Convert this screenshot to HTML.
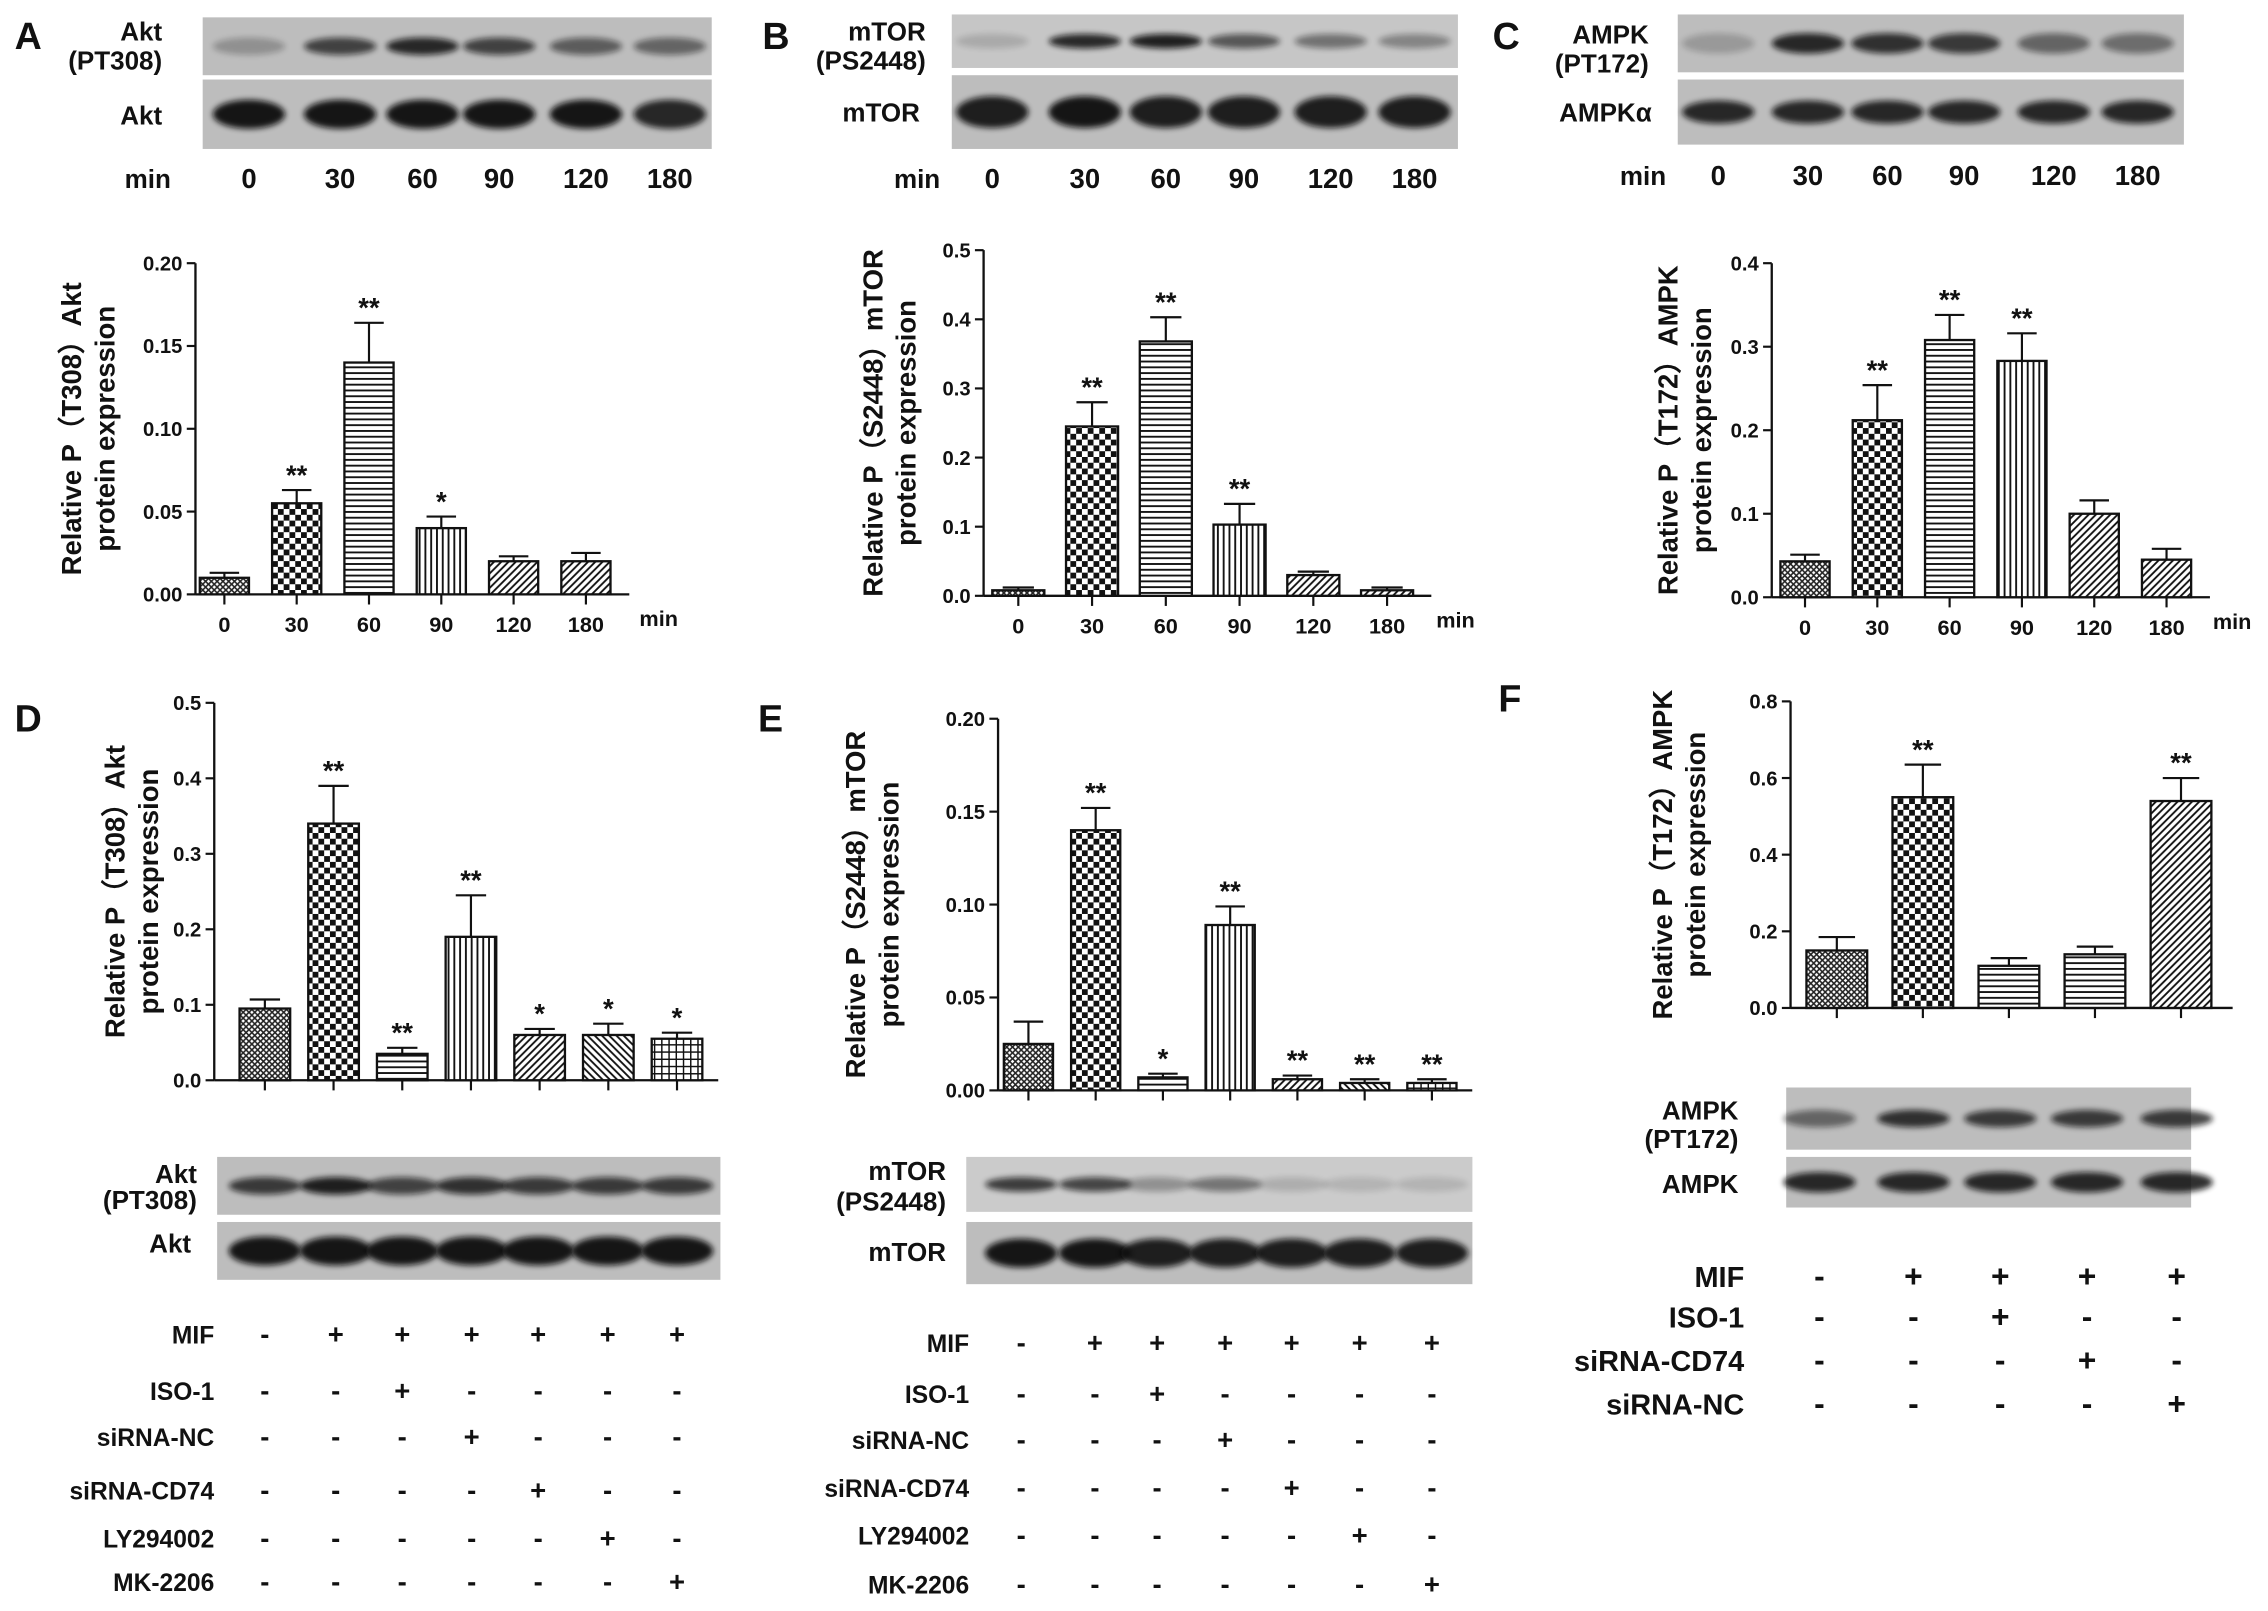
<!DOCTYPE html>
<html><head><meta charset="utf-8"><style>
html,body{margin:0;padding:0;background:#fff}
svg{display:block}
text{font-family:"Liberation Sans",Arial,sans-serif;font-weight:bold;fill:#111}
</style></head><body>
<svg id="fig" xmlns="http://www.w3.org/2000/svg" width="2268" height="1611" viewBox="0 0 1568 1114">
<defs>
<pattern id="p-cross" width="4" height="4" patternUnits="userSpaceOnUse"><rect width="4" height="4" fill="#fff"/><path d="M0,0L4,4M4,0L0,4" stroke="#222" stroke-width="1.1"/></pattern>
<pattern id="p-check" width="8" height="8" patternUnits="userSpaceOnUse"><rect width="8" height="8" fill="#fff"/><rect width="4" height="4" fill="#111"/><rect x="4" y="4" width="4" height="4" fill="#111"/></pattern>
<pattern id="p-h" width="4" height="4" patternUnits="userSpaceOnUse"><rect width="4" height="4" fill="#fff"/><path d="M0,2H4" stroke="#111" stroke-width="1.3"/></pattern>
<pattern id="p-v" width="4" height="4" patternUnits="userSpaceOnUse"><rect width="4" height="4" fill="#fff"/><path d="M2,0V4" stroke="#111" stroke-width="1.3"/></pattern>
<pattern id="p-d" width="5" height="5" patternUnits="userSpaceOnUse"><rect width="5" height="5" fill="#fff"/><path d="M0,5L5,0M-1,1L1,-1M4,6L6,4" stroke="#111" stroke-width="1.3"/></pattern>
<pattern id="p-d2" width="5" height="5" patternUnits="userSpaceOnUse"><rect width="5" height="5" fill="#fff"/><path d="M0,0L5,5M-1,4L1,6M4,-1L6,1" stroke="#111" stroke-width="1.3"/></pattern>
<pattern id="p-grid" width="5" height="5" patternUnits="userSpaceOnUse"><rect width="5" height="5" fill="#fff"/><path d="M0,2.5H5M2.5,0V5" stroke="#111" stroke-width="1"/></pattern>
<filter id="blur" x="-20%" y="-50%" width="140%" height="200%"><feGaussianBlur stdDeviation="2"/></filter>
</defs>
</svg>
<script>
// ---- chart data ----
const aCats=["0","30","60","90","120","180"];
const aVals=[0.010,0.055,0.140,0.040,0.020,0.020];
const aErrs=[0.003,0.008,0.024,0.007,0.003,0.005];
const aStars=["","**","**","*","",""];
const aTicks=["0.00","0.05","0.10","0.15","0.20"];

const bCats=["0","30","60","90","120","180"];
const bVals=[0.008,0.245,0.368,0.103,0.030,0.008];
const bErrs=[0.004,0.035,0.035,0.030,0.005,0.004];
const bStars=["","**","**","**","",""];
const bTicks=["0.0","0.1","0.2","0.3","0.4","0.5"];

const cCats=["0","30","60","90","120","180"];
const cVals=[0.043,0.212,0.308,0.283,0.100,0.045];
const cErrs=[0.008,0.042,0.030,0.033,0.016,0.013];
const cStars=["","**","**","**","",""];
const cTicks=["0.0","0.1","0.2","0.3","0.4"];

const dVals=[0.095,0.340,0.035,0.190,0.060,0.060,0.055];
const dErrs=[0.012,0.050,0.008,0.055,0.008,0.015,0.008];
const dStars=["","**","**","**","*","*","*"];
const dTicks=["0.0","0.1","0.2","0.3","0.4","0.5"];

const eVals=[0.025,0.140,0.007,0.089,0.006,0.004,0.004];
const eErrs=[0.012,0.012,0.002,0.010,0.002,0.002,0.002];
const eStars=["","**","*","**","**","**","**"];
const eTicks=["0.00","0.05","0.10","0.15","0.20"];

const fVals=[0.150,0.550,0.110,0.140,0.540];
const fErrs=[0.035,0.085,0.020,0.020,0.060];
const fStars=["","**","","","**"];
const fTicks=["0.0","0.2","0.4","0.6","0.8"];

const svg=document.getElementById('fig');
const NS="http://www.w3.org/2000/svg";
function mk(tag,attrs,parent,txt){const e=document.createElementNS(NS,tag);for(const k in attrs)e.setAttribute(k,attrs[k]);if(txt!==undefined)e.textContent=txt;(parent||svg).appendChild(e);return e;}

function chart(id,c){
  const g=mk('g',{});
  
  
  const y=v=>c.yBot-v/c.yMax*(c.yBot-c.yTop);
  const x=i=>c.x0+c.first+i*c.step;
  const n=c.vals.length;
  const xEnd=x(n-1)+c.step*0.6;
  mk('line',{x1:c.x0,y1:c.yTop,x2:c.x0,y2:c.yBot,stroke:'#111','stroke-width':1.6},g);
  mk('line',{x1:c.x0,y1:c.yBot,x2:xEnd,y2:c.yBot,stroke:'#111','stroke-width':1.6},g);
  c.ticks.forEach((t,i)=>{
    const v=c.yMax*i/(c.ticks.length-1);
    mk('line',{x1:c.x0-6,y1:y(v),x2:c.x0,y2:y(v),stroke:'#111','stroke-width':1.5},g);
    const tx=mk('text',{x:c.x0-9,y:y(v)+5,'font-size':14,'text-anchor':'end'},g,t);
    
    
  });
  for(let i=0;i<n;i++){
    const cx=x(i),v=c.vals[i],e=c.errs[i];
    mk('line',{x1:cx,y1:c.yBot,x2:cx,y2:c.yBot+7,stroke:'#111','stroke-width':1.5},g);
    const et=y(v+e);
    mk('line',{x1:cx,y1:y(v),x2:cx,y2:et,stroke:'#111','stroke-width':1.5},g);
    mk('line',{x1:cx-c.barW*0.3,y1:et,x2:cx+c.barW*0.3,y2:et,stroke:'#111','stroke-width':1.5},g);
    const r=mk('rect',{x:cx-c.barW/2,y:y(v),width:c.barW,height:c.yBot-y(v),fill:'url(#'+c.pats[i]+')',stroke:'#111','stroke-width':1.6},g);
    
    
    if(c.stars[i]){
      const s=mk('text',{x:cx,y:et-4,'font-size':19,'text-anchor':'middle'},g,c.stars[i]);
      
      
    }
    if(c.cats){
      const t=mk('text',{x:cx,y:c.yBot+26,'font-size':15,'text-anchor':'middle'},g,c.cats[i]);
      
      
    }
  }
  if(c.minX){
    const t=mk('text',{x:c.minX,y:c.yBot+22,'font-size':15},g,'min');
    
    
  }
  const mid=(c.yTop+c.yBot)/2;
  const t1=mk('text',{x:0,y:0,'font-size':19,'text-anchor':'middle',transform:`translate(${c.labX},${mid}) rotate(-90)`},g,c.lab1);
  
  
  const t2=mk('text',{x:0,y:0,'font-size':19,'text-anchor':'middle',transform:`translate(${c.labX+23},${mid}) rotate(-90)`},g,'protein expression');
  
  
}

chart('a',{x0:135,yTop:182,yBot:411,yMax:0.20,first:20,step:50,barW:34,vals:aVals,errs:aErrs,stars:aStars,ticks:aTicks,cats:aCats,minX:442,labX:56,lab1:'Relative P（T308）Akt',pats:['p-cross','p-check','p-h','p-v','p-d','p-d']});
chart('b',{x0:680,yTop:173,yBot:412,yMax:0.5,first:24,step:51,barW:36,vals:bVals,errs:bErrs,stars:bStars,ticks:bTicks,cats:bCats,minX:993,labX:610,lab1:'Relative P（S2448）mTOR',pats:['p-cross','p-check','p-h','p-v','p-d','p-d']});
chart('c',{x0:1225,yTop:182,yBot:413,yMax:0.4,first:23,step:50,barW:34,vals:cVals,errs:cErrs,stars:cStars,ticks:cTicks,cats:cCats,minX:1530,labX:1160,lab1:'Relative P（T172）AMPK',pats:['p-cross','p-check','p-h','p-v','p-d','p-d']});
chart('d',{x0:148,yTop:486,yBot:747,yMax:0.5,first:35,step:47.5,barW:35,vals:dVals,errs:dErrs,stars:dStars,ticks:dTicks,labX:86,lab1:'Relative P（T308）Akt',pats:['p-cross','p-check','p-h','p-v','p-d','p-d2','p-grid']});
chart('e',{x0:690,yTop:497,yBot:754,yMax:0.20,first:21,step:46.5,barW:34,vals:eVals,errs:eErrs,stars:eStars,ticks:eTicks,labX:598,lab1:'Relative P（S2448）mTOR',pats:['p-cross','p-check','p-h','p-v','p-d','p-d2','p-grid']});
chart('f',{x0:1238,yTop:485,yBot:697,yMax:0.8,first:32,step:59.5,barW:42,vals:fVals,errs:fErrs,stars:fStars,ticks:fTicks,labX:1156,lab1:'Relative P（T172）AMPK',pats:['p-cross','p-check','p-h','p-h','p-d']});

// ---- blots ----
function blot(name,x0,y0,w,h,lanes,intens,bh,bg){
  const g=mk('g',{});
  
  
  mk('rect',{x:x0,y:y0,width:w,height:h,fill:bg||'#bdbdbd'},g);
  lanes.forEach((lx,i)=>{
    mk('ellipse',{cx:lx,cy:y0+h/2,rx:25,ry:bh,fill:'#111',opacity:intens[i],filter:'url(#blur)'},g);
  });
}
function lbl(name,x,y,txt,size,anchor){
  const t=mk('text',{x:x,y:y,'font-size':size||18,'text-anchor':anchor||'end'},svg,txt);
  
  
}
const aL=[172,235,292,345,405,463];
blot('blot-a-pakt',140,12,352,40,aL,[0.25,0.7,0.85,0.7,0.55,0.5],6);
blot('blot-a-akt',140,55,352,48,aL,[0.95,0.95,0.95,0.95,0.95,0.85],10);
lbl('blot-label',112,28,'Akt');lbl('blot-label',112,48,'(PT308)');lbl('blot-label',112,86,'Akt');
lbl('lane-unit',118,130,'min');aL.forEach((l,i)=>lbl('lane-label',l,130,aCats[i],19,'middle'));
const bL=[686,750,806,860,920,978];
blot('blot-b-pmtor',658,10,350,37,bL,[0.15,0.85,0.9,0.6,0.45,0.35],5,'#c6c6c6');
blot('blot-b-mtor',658,52,350,51,bL,[0.9,0.95,0.9,0.9,0.9,0.9],11);
lbl('blot-label',640,28,'mTOR');lbl('blot-label',640,48,'(PS2448)');lbl('blot-label',636,84,'mTOR');
lbl('lane-unit',650,130,'min');bL.forEach((l,i)=>lbl('lane-label',l,130,bCats[i],19,'middle'));
const cL=[1188,1250,1305,1358,1420,1478];
blot('blot-c-pampk',1160,10,350,40,cL,[0.2,0.85,0.8,0.75,0.5,0.45],7);
blot('blot-c-ampk',1160,55,350,45,cL,[0.85,0.85,0.85,0.85,0.85,0.85],8);
lbl('blot-label',1140,30,'AMPK');lbl('blot-label',1140,50,'(PT172)');lbl('blot-label',1142,84,'AMPKα');
lbl('lane-unit',1152,128,'min');cL.forEach((l,i)=>lbl('lane-label',l,128,cCats[i],19,'middle'));

const dL=[183,232,278,326,372,420,468];
blot('blot-d-pakt',150,800,348,40,dL,[0.75,0.9,0.7,0.8,0.75,0.75,0.75],6);
blot('blot-d-akt',150,845,348,40,dL,[0.95,0.95,0.95,0.95,0.95,0.95,0.95],10);
lbl('blot-label',136,818,'Akt');lbl('blot-label',136,836,'(PT308)');lbl('blot-label',132,866,'Akt');
const eL=[706,757,800,847,893,940,990];
blot('blot-e-pmtor',668,800,350,38,eL,[0.75,0.7,0.3,0.45,0.15,0.12,0.12],5,'#cbcbcb');
blot('blot-e-mtor',668,845,350,43,eL,[0.95,0.95,0.9,0.9,0.9,0.9,0.9],10);
lbl('blot-label',654,816,'mTOR');lbl('blot-label',654,837,'(PS2448)');lbl('blot-label',654,872,'mTOR');
const fL=[1258,1323,1383,1443,1505];
blot('blot-f-pampk',1235,752,280,43,fL,[0.5,0.8,0.75,0.75,0.75],6);
blot('blot-f-ampk',1235,800,280,35,fL,[0.85,0.85,0.85,0.85,0.85],7);
lbl('blot-label',1202,774,'AMPK');lbl('blot-label',1202,794,'(PT172)');lbl('blot-label',1202,825,'AMPK');

// ---- treatment tables ----
const dRows=["MIF","ISO-1","siRNA-NC","siRNA-CD74","LY294002","MK-2206"];
const dSigns=["-++++++","--+----","---+---","----+--","-----+-","------+"];
const eRows=dRows;
const fRows=["MIF","ISO-1","siRNA-CD74","siRNA-NC"];
const fSigns=["-++++","--+--","---+-","----+"];
function table(name,labX,rows,signs,ys,xs,size){
  rows.forEach((r,ri)=>{
    lbl(name+'-label',labX,ys[ri],r,size||17);
    signs[ri].split('').forEach((s,ci)=>{
      const t=mk('text',{x:xs[ci],y:ys[ri],'font-size':size?size+2:19,'text-anchor':'middle'},svg,s==='+'?'+':'-');
      
      
    });
  });
}
table('treatment-d',148,dRows,dSigns,[929,968,1000,1037,1070,1100],dL);
table('treatment-e',670,eRows,dSigns,[935,970,1002,1035,1068,1102],eL);
table('treatment-f',1206,fRows,fSigns,[890,918,948,978],fL,20);

// panel letters
[['A',10,34],['B',527,34],['C',1032,34],['D',10,506],['E',524,506],['F',1036,492]].forEach(p=>{
  const t=mk('text',{x:p[1],y:p[2],'font-size':26},svg,p[0]);
  
  
});
</script>
</body></html>
